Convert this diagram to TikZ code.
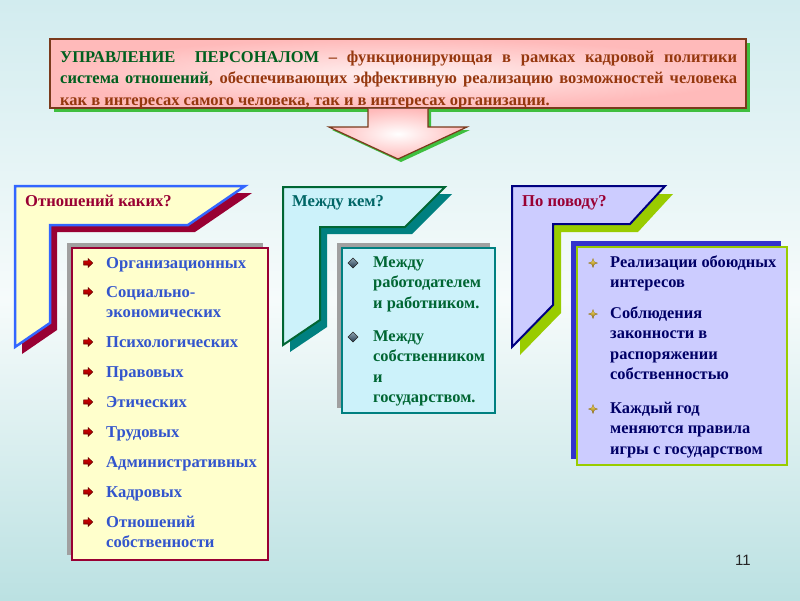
\documentclass[tikz,border=0pt]{standalone}
\usepackage{fontspec}
\setmainfont{Liberation Serif}
\newfontfamily\numfont{Liberation Sans}
\definecolor{bgtop}{HTML}{D2ECEF}
\definecolor{bgmid}{HTML}{F6FBFB}
\definecolor{bgbot}{HTML}{BBE1E2}
\definecolor{tborder}{HTML}{7A3A1C}
\definecolor{tshadow}{HTML}{3FBF3F}
\definecolor{pinkin}{HTML}{FFF0F0}
\definecolor{pinkout}{HTML}{FFBABA}
\definecolor{tbrown}{HTML}{96380F}
\definecolor{tgreen}{HTML}{005F1E}
\definecolor{yfill}{HTML}{FFFFCC}
\definecolor{bblue}{HTML}{3366FF}
\definecolor{crimson}{HTML}{990033}
\definecolor{cfill}{HTML}{CCF2FA}
\definecolor{dgreen}{HTML}{006633}
\definecolor{teal2}{HTML}{008080}
\definecolor{tealtxt}{HTML}{006666}
\definecolor{lfill}{HTML}{CCCCFF}
\definecolor{navy2}{HTML}{000080}
\definecolor{navytxt}{HTML}{000066}
\definecolor{lime2}{HTML}{99CC00}
\definecolor{blueshadow}{HTML}{3333CC}
\definecolor{greyshadow}{HTML}{A0A0A0}
\definecolor{itemblue}{HTML}{3355CC}
\definecolor{slatelt}{HTML}{8FA6B5}
\definecolor{slatedk}{HTML}{22384A}
\definecolor{goldlt}{HTML}{FFE566}
\definecolor{golddk}{HTML}{8A6A10}
\begin{document}
\begin{tikzpicture}[x=1pt,y=-1pt,
  itm/.style={anchor=north west, inner sep=0pt, align=left,
    font=\bfseries\fontsize{16.6}{20}\selectfont},
  itmb/.style={anchor=north west, inner sep=0pt, align=left,
    font=\bfseries\fontsize{16.4}{20.4}\selectfont},
  hdr/.style={anchor=base west, inner sep=0pt,
    font=\bfseries\fontsize{16.6}{20}\selectfont},
  abul/.pic={\draw[draw=black!60!red, top color=red!90!black, bottom color=red!50!black, line width=0.5]
      (-4.5,-2.2) -- (0,-2.2) -- (0,-4.5) -- (4.8,0) -- (0,4.5) -- (0,2.2) -- (-4.5,2.2) -- cycle;},
  dbul/.pic={\draw[draw=black!85, line width=0.5, top color=slatelt, bottom color=slatedk]
      (0,-5) -- (5,0) -- (0,5) -- (-5,0) -- cycle;},
  sbul/.pic={\draw[draw=golddk, line width=0.3, top color=goldlt, bottom color=golddk]
      (0,-4.5) -- (1.2,-1.2) -- (4.5,0) -- (1.2,1.2) -- (0,4.5) -- (-1.2,1.2) -- (-4.5,0) -- (-1.2,-1.2) -- cycle;},
]
\useasboundingbox (0,0) rectangle (800,600);
\fill[top color=bgtop, bottom color=bgbot, middle color=bgmid] (0,0) rectangle (800,600);

% title box
\fill[tshadow] (54,43) rectangle (750,112);
\draw[draw=tborder, line width=1.3, inner color=pinkin, outer color=pinkout] (50,39) rectangle (746,108);
\node[anchor=north west, inner sep=0pt, text width=677pt, align=justify, text=tbrown,
  font=\bfseries\fontsize{16.5}{21.5}\selectfont] (title) at (60,47)
  {\strut{\color{tgreen}УПРАВЛЕНИЕ\ \ ПЕРСОНАЛОМ} – функционирующая в рамках кадровой политики\linebreak
   {\color{tgreen}система отношений}, обеспечивающих эффективную реализацию возможностей человека\linebreak
   как в интересах самого человека, так и в интересах организации.};

% down arrow
\fill[tshadow] (431,109) -- (431,130) -- (470,130) -- (401,162) -- (332,130) -- (369,130) -- (369,109) -- cycle;
\fill[inner color=white, outer color=pinkout] (368,108.6) -- (428,108.6) -- (428,127) -- (467,127) -- (398,159) -- (329,127) -- (368,127) -- cycle;
\draw[tborder, line width=1.2, line join=miter] (428,108.6) -- (428,127) -- (467,127) -- (398,159) -- (329,127) -- (368,127) -- (368,108.6);

% column 1
\fill[crimson, shift={(7,7)}] (15,186) -- (245,186) -- (188,225) -- (50,225) -- (50,323) -- (15,347) -- cycle;
\draw[bblue, line width=2.5, fill=yfill] (15,186) -- (245,186) -- (188,225) -- (50,225) -- (50,323) -- (15,347) -- cycle;
\node[hdr, text=crimson] (h1) at (25,206) {Отношений каких?};
\fill[greyshadow] (67,243) rectangle (263,555);
\draw[crimson, line width=2, fill=yfill] (72,248) rectangle (268,560);
\begin{scope}[text=itemblue]
\node[itm] (a1) at (106,254) {\strut Организационных};
\node[itm] (a2) at (106,283) {\strut Социально-\\экономических};
\node[itm] (a3) at (106,333) {\strut Психологических};
\node[itm] (a4) at (106,363) {\strut Правовых};
\node[itm] (a5) at (106,393) {\strut Этических};
\node[itm] (a6) at (106,423) {\strut Трудовых};
\node[itm] (a7) at (106,453) {\strut Административных};
\node[itm] (a8) at (106,483) {\strut Кадровых};
\node[itm] (a9) at (106,513) {\strut Отношений\\собственности};
\end{scope}
\foreach \yy in {263,292,342,372,402,432,462,492,522} \pic at (88,\yy) {abul};

% column 2
\fill[teal2, shift={(7,7)}] (283,187) -- (445,187) -- (405,227) -- (320,227) -- (320,320) -- (283,345) -- cycle;
\draw[dgreen, line width=2, fill=cfill] (283,187) -- (445,187) -- (405,227) -- (320,227) -- (320,320) -- (283,345) -- cycle;
\node[hdr, text=tealtxt] (h2) at (292,206) {Между кем?};
\fill[greyshadow] (337,243) rectangle (490,408);
\draw[teal2, line width=2, fill=cfill] (342,248) rectangle (495,413);
\begin{scope}[text=dgreen]
\node[itmb] (b1) at (373,253) {\strut Между\\работодателем\\и работником.};
\node[itmb] (b2) at (373,327) {\strut Между\\собственником\\и\\государством.};
\end{scope}
\pic at (353,263) {dbul};
\pic at (353,337) {dbul};

% column 3
\fill[lime2, shift={(8,8)}] (512,186) -- (665,186) -- (630,224) -- (553,224) -- (553,305) -- (512,347) -- cycle;
\draw[navy2, line width=2, fill=lfill] (512,186) -- (665,186) -- (630,224) -- (553,224) -- (553,305) -- (512,347) -- cycle;
\node[hdr, text=crimson] (h3) at (522,206) {По поводу?};
\fill[blueshadow] (571,241) rectangle (781,459);
\draw[lime2, line width=2, fill=lfill] (577,247) rectangle (787,465);
\begin{scope}[text=navytxt]
\node[itmb] (c1) at (610,253) {\strut Реализации обоюдных\\интересов};
\node[itmb] (c2) at (610,304) {\strut Соблюдения\\законности в\\распоряжении\\собственностью};
\node[itmb] (c3) at (610,399) {\strut Каждый год\\меняются правила\\игры с государством};
\end{scope}
\pic at (593,263) {sbul};
\pic at (593,314) {sbul};
\pic at (593,409) {sbul};

\node[anchor=base, inner sep=0pt, font=\numfont\fontsize{15}{16}\selectfont, text=black!85] (pg) at (743,565) {11};
\end{tikzpicture}
\end{document}
